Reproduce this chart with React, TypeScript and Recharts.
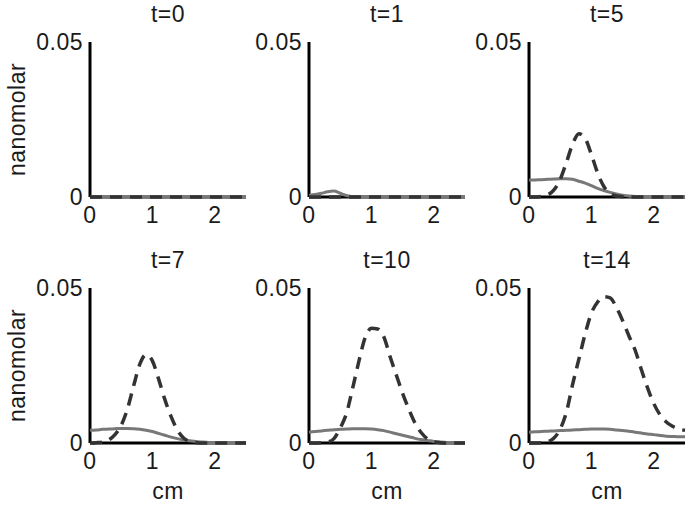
import React from 'react';
import { LineChart, Line, XAxis, YAxis } from 'recharts';

const xValues = [0, 0.1, 0.2, 0.3, 0.4, 0.5, 0.6, 0.7, 0.8, 0.9, 1.0, 1.1, 1.2, 1.3, 1.4, 1.5, 1.6, 1.7, 1.8, 1.9, 2.0, 2.1, 2.2, 2.3, 2.4, 2.5];
const panelTitles = ['t=0', 't=1', 't=5', 't=7', 't=10', 't=14'];
const xTicks = [0, 1, 2];
const yTicks = [0, 0.05];
const xLabel = 'cm';
const yLabel = 'nanomolar';

const solidT0 = [0, 0, 0, 0, 0, 0, 0, 0, 0, 0, 0, 0, 0, 0, 0, 0, 0, 0, 0, 0, 0, 0, 0, 0, 0, 0];
const dashedT0 = [0, 0, 0, 0, 0, 0, 0, 0, 0, 0, 0, 0, 0, 0, 0, 0, 0, 0, 0, 0, 0, 0, 0, 0, 0, 0];

const solidT1 = [0.0006, 0.0008, 0.0012, 0.0017, 0.0019, 0.0012, 0.0005, 0.0001, 0, 0, 0, 0, 0, 0, 0, 0, 0, 0, 0, 0, 0, 0, 0, 0, 0, 0];
const dashedT1 = [0, 0, 0, 0, 0, 0, 0, 0, 0, 0, 0, 0, 0, 0, 0, 0, 0, 0, 0, 0, 0, 0, 0, 0, 0, 0];

const solidT5 = [0.0054, 0.0055, 0.0056, 0.0057, 0.0058, 0.0059, 0.0059, 0.0057, 0.0051, 0.0045, 0.0037, 0.0028, 0.0021, 0.0015, 0.0010, 0.0006, 0.0003, 0.0002, 0.0001, 0, 0, 0, 0, 0, 0, 0];
const dashedT5 = [0, 0, 0.0002, 0.0007, 0.0023, 0.0057, 0.0112, 0.0171, 0.0204, 0.0189, 0.0137, 0.0077, 0.0034, 0.0012, 0.0003, 0.0001, 0, 0, 0, 0, 0, 0, 0, 0, 0, 0];

const solidT7 = [0.0041, 0.0042, 0.0044, 0.0045, 0.0046, 0.0047, 0.0047, 0.0046, 0.0044, 0.0041, 0.0037, 0.0031, 0.0025, 0.0019, 0.0014, 0.0010, 0.0007, 0.0005, 0.0003, 0.0002, 0.0001, 0.0001, 0, 0, 0, 0];
const dashedT7 = [0, 0.0001, 0.0003, 0.0010, 0.0027, 0.0057, 0.0110, 0.0185, 0.0255, 0.0285, 0.0265, 0.0206, 0.0140, 0.0085, 0.0042, 0.0016, 0.0005, 0.0001, 0, 0, 0, 0, 0, 0, 0, 0];

const solidT10 = [0.0035, 0.0037, 0.0039, 0.0041, 0.0043, 0.0044, 0.0045, 0.0046, 0.0046, 0.0046, 0.0045, 0.0043, 0.0040, 0.0035, 0.0030, 0.0025, 0.0020, 0.0015, 0.0011, 0.0008, 0.0005, 0.0003, 0.0002, 0.0001, 0.0001, 0.0001];
const dashedT10 = [0, 0, 0.0001, 0.0003, 0.0014, 0.0048, 0.0095, 0.0177, 0.0264, 0.0340, 0.0370, 0.0368, 0.0342, 0.0278, 0.0219, 0.0160, 0.0109, 0.0064, 0.0033, 0.0013, 0.0004, 0.0001, 0, 0, 0, 0];

const solidT14 = [0.0035, 0.0036, 0.0037, 0.0038, 0.0039, 0.0040, 0.0041, 0.0042, 0.0043, 0.0044, 0.0045, 0.0045, 0.0045, 0.0044, 0.0042, 0.0040, 0.0038, 0.0035, 0.0032, 0.0029, 0.0027, 0.0024, 0.0022, 0.0021, 0.0020, 0.0020];
const dashedT14 = [0, 0, 0.0001, 0.0004, 0.0016, 0.0045, 0.0100, 0.0190, 0.0271, 0.0352, 0.0419, 0.0455, 0.0472, 0.0468, 0.0438, 0.0395, 0.0346, 0.0300, 0.0237, 0.0178, 0.0127, 0.0091, 0.0068, 0.0054, 0.0045, 0.0041];

const solidSeries = [solidT0, solidT1, solidT5, solidT7, solidT10, solidT14];
const dashedSeries = [dashedT0, dashedT1, dashedT5, dashedT7, dashedT10, dashedT14];

const FONT = '"Liberation Sans", Arial, Helvetica, sans-serif';
const TEXT = '#1a1a1a';
const FS = 23;
const AXIS_W = 90;
const PLOT_W = 156;
const PLOT_H = 155;
const TOP = 42;
const RIGHT = 5;
const XAXIS_H = 60;
const CHART_W = AXIS_W + PLOT_W + RIGHT;
const CHART_H = TOP + PLOT_H + XAXIS_H;
const colLefts = [0, 219, 439];
const rowTops = [0, 246];
const X_DOMAIN: [number, number] = [0, 2.5];
const Y_DOMAIN: [number, number] = [0, 0.05];

function Panel({ idx }: { idx: number }) {
  const col = idx % 3;
  const row = Math.floor(idx / 3);
  const data = xValues.map((x, i) => ({ x, solid: solidSeries[idx][i], dashed: dashedSeries[idx][i] }));
  const left = colLefts[col];
  const top = rowTops[row];
  return (
    <div style={{ position: 'absolute', left, top, width: CHART_W, height: CHART_H }}>
      <div
        style={{
          position: 'absolute',
          left: AXIS_W,
          width: PLOT_W,
          top: 3,
          textAlign: 'center',
          fontSize: FS,
          lineHeight: `${FS}px`,
          color: TEXT,
        }}
      >
        {panelTitles[idx]}
      </div>
      {/* axes layer */}
      <div style={{ position: 'absolute', left: 0, top: 0 }}>
        <LineChart width={CHART_W} height={CHART_H} data={data} margin={{ top: TOP, right: RIGHT, bottom: 0, left: 0 }}>
          <XAxis
            dataKey="x"
            type="number"
            domain={X_DOMAIN}
            ticks={xTicks}
            interval={0}
            height={XAXIS_H}
            tickLine={false}
            tickSize={0}
            tickMargin={10}
            axisLine={{ stroke: '#000', strokeWidth: 3 }}
            tick={{ fill: TEXT, fontSize: FS }}
            label={row === 1 ? { value: xLabel, position: 'insideBottom', offset: 4, fill: TEXT, fontSize: FS } : undefined}
          />
          <YAxis
            dataKey="dashed"
            type="number"
            domain={Y_DOMAIN}
            ticks={yTicks}
            interval={0}
            width={AXIS_W}
            tickLine={false}
            tickSize={0}
            tickMargin={7}
            axisLine={{ stroke: '#000', strokeWidth: 3 }}
            tick={{ fill: TEXT, fontSize: FS }}
            tickFormatter={(v: number) => String(v)}
            label={
              col === 0
                ? { value: yLabel, angle: -90, position: 'insideLeft', offset: 17, fill: TEXT, fontSize: FS, style: { textAnchor: 'middle' } }
                : undefined
            }
          />
          <Line
            type="monotone"
            dataKey="dashed"
            stroke="none"
            strokeWidth={0}
            dot={false}
            activeDot={false}
            legendType="none"
            isAnimationActive={false}
          />
        </LineChart>
      </div>
      {/* series layer, drawn above the axes */}
      <div style={{ position: 'absolute', left: 0, top: 0 }}>
        <LineChart
          width={CHART_W}
          height={CHART_H}
          data={data}
          margin={{ top: TOP, right: RIGHT, bottom: XAXIS_H, left: AXIS_W }}
        >
          <XAxis dataKey="x" type="number" domain={X_DOMAIN} hide />
          <YAxis type="number" domain={Y_DOMAIN} hide />
          <Line
            type="monotone"
            dataKey="solid"
            stroke="#787878"
            strokeWidth={3}
            dot={false}
            activeDot={false}
            isAnimationActive={false}
          />
          <Line
            type="monotone"
            dataKey="dashed"
            stroke="#333333"
            strokeWidth={3.5}
            strokeDasharray="12 8"
            dot={false}
            activeDot={false}
            isAnimationActive={false}
          />
        </LineChart>
      </div>
    </div>
  );
}

export default function App() {
  return (
    <div
      style={{
        position: 'absolute',
        left: 0,
        top: 0,
        width: 688,
        height: 505,
        overflow: 'hidden',
        background: '#fff',
        fontFamily: FONT,
        letterSpacing: 0.5,
        color: TEXT,
      }}
    >
      {[0, 1, 2, 3, 4, 5].map((i) => (
        <Panel key={i} idx={i} />
      ))}
    </div>
  );
}
